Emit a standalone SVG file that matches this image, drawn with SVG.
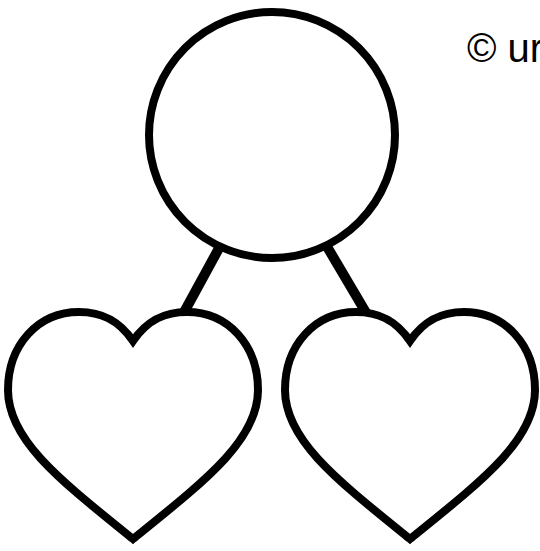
<svg xmlns="http://www.w3.org/2000/svg" width="540" height="551" viewBox="0 0 540 551">
<style>
.node{fill:#fff;stroke:#000;stroke-width:8;stroke-linejoin:miter}
.conn{stroke:#000;stroke-width:10;fill:none}
.label{font-family:"Liberation Sans",Arial,sans-serif;font-size:40px;fill:#000}
</style>
<defs>
<path id="heart" d="M 133 341 C 118 319 100 312 79 312 C 38 312 8 345 8 390 C 8 440 60 480 133 539 C 206 480 258 440 258 390 C 258 345 228 312 187 312 C 166 312 148 319 133 341 Z"/>
</defs>
<rect width="540" height="551" fill="#fff"/>
<g id="connectors">
<line class="conn" x1="230" y1="228" x2="182" y2="316"/>
<line class="conn" x1="316" y1="228" x2="368" y2="316"/>
</g>
<g id="circle">
<circle class="node" cx="272" cy="135" r="123"/>
</g>
<g id="heart-left">
<use href="#heart" class="node"/>
</g>
<g id="heart-right">
<use href="#heart" class="node" transform="translate(277 0)"/>
</g>
<g id="copyright">
<text class="label" x="467" y="62">© ur</text>
</g>
</svg>
